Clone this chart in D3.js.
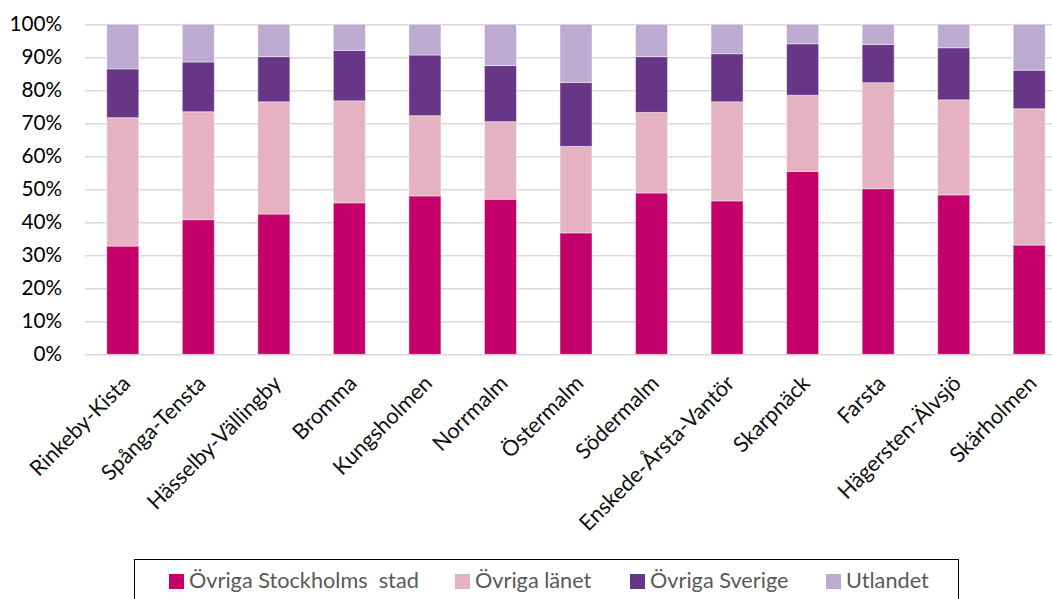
<!DOCTYPE html>
<html>
<head>
<meta charset="utf-8">
<script src="https://cdn.jsdelivr.net/npm/d3@7"></script>
<style>
  body { margin: 0; background: #fff; }
  svg { display: block; font-family: Lato, "Open Sans", sans-serif; }
</style>
</head>
<body>
<div id="chart"></div>
<script>
// districts on the x axis
const districts = ["Rinkeby-Kista", "Spånga-Tensta", "Hässelby-Vällingby", "Bromma",
  "Kungsholmen", "Norrmalm", "Östermalm", "Södermalm", "Enskede-Årsta-Vantör",
  "Skarpnäck", "Farsta", "Hägersten-Älvsjö", "Skärholmen"];

const seriesNames = ["Övriga Stockholms  stad", "Övriga länet", "Övriga Sverige", "Utlandet"];

// shares in percent, one value per district
const ovrigaStad   = [32.8, 40.8, 42.5, 45.9, 48.0, 47.0, 36.8, 48.9, 46.5, 55.4, 50.2, 48.3, 33.1];
const ovrigaLanet  = [38.9, 32.7, 34.0, 30.9, 24.3, 23.5, 26.2, 24.4, 30.0, 23.1, 32.1, 28.8, 41.3];
const ovrigaSverige = [14.8, 15.1, 13.7, 15.3, 18.4, 17.0, 19.4, 16.9, 14.6, 15.6, 11.6, 15.8, 11.7];
const utlandet     = [13.5, 11.4, 9.8, 7.9, 9.3, 12.5, 17.6, 9.8, 8.9, 5.9, 6.1, 7.1, 13.9];

const yTicks = [0, 0.1, 0.2, 0.3, 0.4, 0.5, 0.6, 0.7, 0.8, 0.9, 1];

const colors = ["#c4006a", "#e4b2c1", "#673686", "#bcaad0"];

const w = 1052, h = 599;
const margin = {top: 24.3, left: 85};
const plotRight = 1067, plotBottom = 354.3;

// build rows for d3.stack
const rows = districts.map((d, i) => {
  const row = {district: d};
  const vals = [ovrigaStad[i], ovrigaLanet[i], ovrigaSverige[i], utlandet[i]];
  const tot = d3.sum(vals);
  seriesNames.forEach((s, j) => row[s] = vals[j] / tot);
  return row;
});

const stacked = d3.stack().keys(seriesNames)(rows);

const svg = d3.select("#chart").append("svg")
  .attr("width", w)
  .attr("height", h);

const xScale = d3.scaleBand()
  .domain(districts)
  .range([margin.left, plotRight])
  .paddingInner(0.576)
  .paddingOuter(0.288);

const yScale = d3.scaleLinear()
  .domain([0, 1])
  .range([plotBottom, margin.top]);

// y axis with gridlines
const yAxis = d3.axisLeft(yScale)
  .tickValues(yTicks)
  .tickFormat(d3.format(".0%"))
  .tickSize(-(plotRight - margin.left))
  .tickPadding(23);

const yG = svg.append("g")
  .attr("transform", "translate(" + margin.left + ",0)")
  .call(yAxis);
yG.select(".domain").remove();
yG.selectAll(".tick line")
  .attr("stroke", "#d9d9d9")
  .attr("stroke-width", 1.6);
yG.selectAll(".tick text")
  .attr("fill", "#000")
  .style("font-size", "20.7px")
  .style("font-family", "Lato, 'Open Sans', sans-serif");

// bars
svg.append("g")
  .selectAll("g")
  .data(stacked)
  .join("g")
  .attr("fill", (d, i) => colors[i])
  .selectAll("rect")
  .data(d => d)
  .join("rect")
  .attr("x", d => xScale(d.data.district))
  .attr("y", d => yScale(d[1]))
  .attr("width", xScale.bandwidth())
  .attr("height", d => yScale(d[0]) - yScale(d[1]))
  .attr("stroke", "rgba(255,255,255,0.45)")
  .attr("stroke-width", 1);

// x labels, rotated
svg.append("g")
  .selectAll("text")
  .data(districts)
  .join("text")
  .attr("transform", d => "translate(" + (xScale(d) + xScale.bandwidth() / 2 - 2) + ",374) rotate(-45)")
  .attr("text-anchor", "end")
  .attr("dy", "0.7em")
  .attr("fill", "#111")
  .style("font-size", "21.7px")
  .text(d => d);

// legend
const legend = svg.append("g");
legend.append("rect")
  .attr("x", 134.5)
  .attr("y", 559.5)
  .attr("width", 824)
  .attr("height", 60)
  .attr("fill", "#fff")
  .attr("stroke", "#000")
  .attr("stroke-width", 1);

const legendX = [169, 455, 630, 826];
const items = legend.selectAll("g.item")
  .data(seriesNames)
  .join("g")
  .attr("class", "item")
  .attr("transform", (d, i) => "translate(" + legendX[i] + ",0)");
items.append("rect")
  .attr("x", 0)
  .attr("y", 574)
  .attr("width", 15)
  .attr("height", 15)
  .attr("fill", (d, i) => colors[i]);
items.append("text")
  .attr("x", 20)
  .attr("y", 588)
  .attr("fill", "#595959")
  .style("font-size", "21.7px")
  .style("white-space", "pre")
  .attr("xml:space", "preserve")
  .text(d => d);
</script>
</body>
</html>
